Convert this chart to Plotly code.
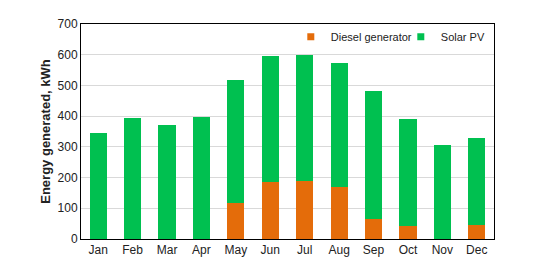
import plotly.graph_objects as go

months = ["Jan", "Feb", "Mar", "Apr", "May", "Jun", "Jul", "Aug", "Sep", "Oct", "Nov", "Dec"]
diesel = [0, 0, 0, 0, 118, 187, 190, 169, 65, 43, 0, 45]
total = [346, 393, 371, 397, 517, 597, 598, 573, 483, 392, 305, 329]
solar = [t - d for t, d in zip(total, diesel)]

DIESEL_C = "#E46C0A"
SOLAR_C = "#00C050"

fig = go.Figure()
fig.add_bar(x=months, y=diesel, name="Diesel generator", marker_color=DIESEL_C,
            marker_line_width=0, showlegend=False)
fig.add_bar(x=months, y=solar, name="Solar PV", marker_color=SOLAR_C,
            marker_line_width=0, showlegend=False)
# legend-only entries with small square markers
fig.add_scatter(x=[None], y=[None], mode="markers", name="Diesel generator",
                marker=dict(symbol="square", size=7, color=DIESEL_C))
fig.add_scatter(x=[None], y=[None], mode="markers", name="Solar PV",
                marker=dict(symbol="square", size=7, color=SOLAR_C))

fig.update_layout(
    barmode="stack",
    bargap=0.5,
    width=555, height=280,
    margin=dict(l=73, r=69, t=16, b=49, autoexpand=False),
    paper_bgcolor="white", plot_bgcolor="white",
    font=dict(family="Liberation Sans, Arial, sans-serif", size=12, color="#222"),
    legend=dict(orientation="h", x=0.508, y=1.008, xanchor="left", yanchor="top",
                bgcolor="rgba(0,0,0,0)", font=dict(size=11), traceorder="normal",
                itemwidth=30, entrywidth=65, entrywidthmode="pixels"),
    showlegend=True,
)
fig.update_xaxes(showline=True, linecolor="black", linewidth=1, mirror=True, ticks="", showgrid=False)
fig.update_yaxes(range=[0, 700], dtick=100, showline=True, linecolor="black", linewidth=1, mirror=True,
                 gridcolor="#D9D9D9", gridwidth=1, ticks="",
                 title=dict(text="<b>Energy generated, kWh</b>", font=dict(size=13), standoff=4))
fig.write_html("out.html")
